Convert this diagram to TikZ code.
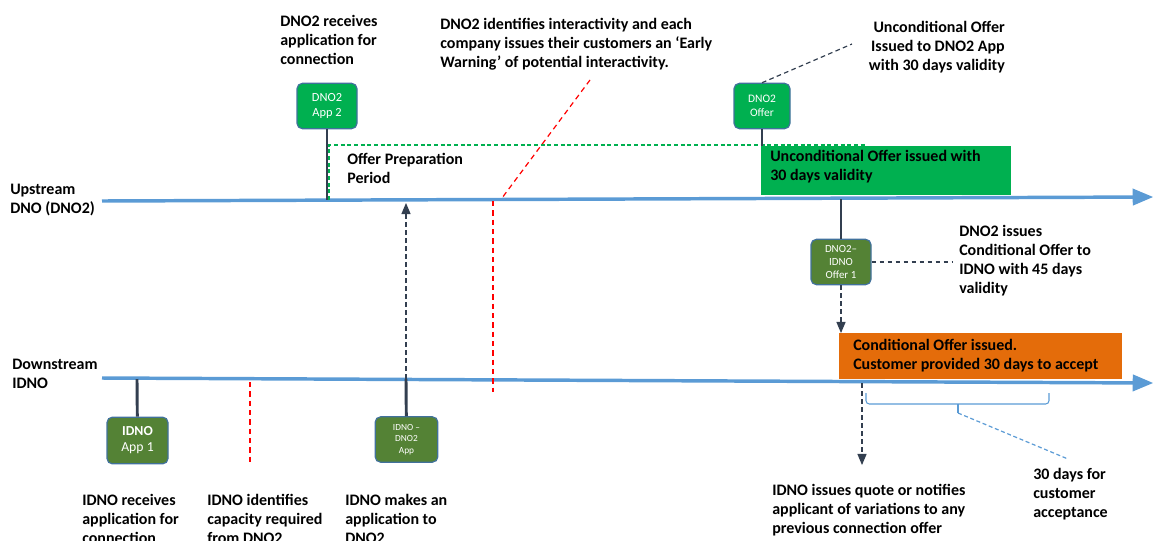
\documentclass[tikz,border=0pt]{standalone}
\usepackage{fontspec}
\setmainfont{Carlito}
\usetikzlibrary{arrows}
\definecolor{lineblue}{RGB}{91,155,213}
\definecolor{offergreen}{RGB}{0,176,80}
\definecolor{boxgreen}{RGB}{84,130,53}
\definecolor{boxedge}{RGB}{65,113,156}
\definecolor{stemgray}{RGB}{51,63,80}
\definecolor{offerorange}{RGB}{228,108,10}

\begin{document}
\begin{tikzpicture}[x=0.75pt,y=-0.75pt,>=triangle 45,
  lbl/.style={font=\bfseries\fontsize{12}{14.25}\selectfont,align=left,anchor=base west,inner sep=0pt},
  appbox/.style={draw=boxedge,line width=0.9pt,rounded corners=4pt,text=white,align=center,inner sep=1pt},
  timeline/.style={draw=lineblue,line width=2.6pt,->},
  stem/.style={draw=stemgray,line width=2.2pt},
  greydash/.style={draw=stemgray,line width=0.9pt,dash pattern=on 3.5pt off 2.5pt},
  reddash/.style={draw=red,line width=0.9pt,dash pattern=on 4pt off 3pt}]
\useasboundingbox (0,0) rectangle (1153,540);
\clip (0,0) rectangle (1153,540);

% the two timelines
\coordinate (us) at (102,201);
\coordinate (ue) at (1153,197);
\coordinate (ds) at (102,378);
\coordinate (de) at (1153,383);
\draw[timeline] (us) -- (ue);
\draw[timeline] (ds) -- (de);
\node[lbl] (uplbl) at (10,213) {Upstream\\DNO (DNO2)};
\node[lbl] (downlbl) at (12,388) {Downstream\\IDNO};

% upstream events
\node[appbox,fill=offergreen,minimum width=45pt,minimum height=34pt,font=\fontsize{9.3}{11.2}\selectfont] (app2) at (327,106) {DNO2\\App 2};
\coordinate (u1) at (327,200);
\draw[stem] (app2) -- (u1);
\node[lbl] (app2lbl) at (280,64) {DNO2 receives\\application for\\connection};

\coordinate (g1) at (329,200);
\coordinate (g2) at (329,145);
\coordinate (g3) at (867,145);
\node[fill=offergreen,minimum width=187.5pt,minimum height=36.75pt,anchor=north west,inner sep=0pt] (ubar) at (761,146) {};
\draw[offergreen,line width=0.9pt,dash pattern=on 3pt off 2pt] (g1) -- (g2) -- (g3);
\node[lbl] (preplbl) at (347,183) {Offer Preparation\\Period};
\node[lbl] (ubarlbl) at (770,180) {Unconditional Offer issued with\\30 days validity};

\node[appbox,fill=offergreen,minimum width=42pt,minimum height=34pt,font=\fontsize{8.6}{10.5}\selectfont] (offer2) at (762,106) {DNO2\\Offer};
\draw[stem] (offer2) -- (offer2 |- ubar.north);
\coordinate (c1) at (852,44);
\draw[greydash] (offer2.north) -- (c1);
\node[lbl,align=right,anchor=base east] (offer2lbl) at (1005,70) {Unconditional Offer\\Issued to DNO2 App\\with 30 days validity};

% interactivity
\coordinate (r1) at (590,80);
\coordinate (r2) at (502,198);
\coordinate (r3) at (493,201);
\coordinate (r4) at (493,392);
\draw[reddash] (r1) -- (r2);
\draw[reddash] (r3) -- (r4);
\node[lbl] (warnlbl) at (440,67) {DNO2 identifies interactivity and each\\company issues their customers an `Early\\Warning' of potential interactivity.};

% conditional offer
\coordinate (u2) at (841,199);
\node[appbox,fill=boxgreen,minimum width=45pt,minimum height=34pt,font=\fontsize{8.2}{10}\selectfont] (ioffer) at (841,262) {DNO2--\\IDNO\\Offer 1};
\draw[stem] (u2) -- (ioffer);
\coordinate (c2) at (952,262);
\draw[greydash] (ioffer.east) -- (c2);
\node[lbl] (iofferlbl) at (959,293) {DNO2 issues\\Conditional Offer to\\IDNO with 45 days\\validity};

\node[fill=offerorange,minimum width=212pt,minimum height=34.5pt,anchor=north west,inner sep=0pt] (obar) at (839,333) {};
\draw[greydash,->] (ioffer.south) -- (ioffer |- obar.north);
\node[lbl] (obarlbl) at (853,369) {Conditional Offer issued.\\Customer provided 30 days to accept};

\coordinate (d3) at (862,383);
\coordinate (q1) at (862,465);
\draw[greydash,->] (d3) -- (q1);
\node[lbl] (quotelbl) at (772,533) {IDNO issues quote or notifies\\applicant of variations to any\\previous connection offer};

% acceptance period
\coordinate (b1) at (866,393);
\coordinate (b2) at (1049,393);
\coordinate (bt) at (958,413);
\draw[lineblue,line width=0.8pt,rounded corners=2.5pt] (b1) |- (958,404) -| (b2);
\draw[lineblue,line width=0.8pt] (958,404) -- (bt);
\coordinate (b3) at (1068,459);
\draw[lineblue,line width=0.9pt,dash pattern=on 3pt off 2pt] (bt) -- (b3);
\node[lbl] (acclbl) at (1033,517) {30 days for\\customer\\acceptance};

% downstream events
\coordinate (d1) at (137,379);
\node[appbox,fill=boxgreen,minimum width=45.75pt,minimum height=35pt,font=\fontsize{10.3}{12}\selectfont] (idnoapp) at (137.5,440.5) {\textbf{IDNO}\\App 1};
\draw[stem] (d1) -- (idnoapp);
\node[lbl] (idnolbl) at (82,543) {IDNO receives\\application for\\connection};

\coordinate (r5) at (250,382);
\coordinate (r6) at (250,463);
\draw[reddash] (r5) -- (r6);
\node[lbl] (caplbl) at (207,543) {IDNO identifies\\capacity required\\from DNO2};

\coordinate (d2) at (406,379);
\coordinate (u3) at (406,203);
\node[appbox,fill=boxgreen,minimum width=47pt,minimum height=34pt,font=\fontsize{7}{8.6}\selectfont] (idnodno) at (406.5,439.5) {IDNO --\\DNO2\\App};
\draw[stem] (d2) -- (idnodno);
\draw[greydash,->] (d2) -- (u3);
\node[lbl] (makelbl) at (345,543) {IDNO makes an\\application to\\DNO2};
\end{tikzpicture}
\end{document}
